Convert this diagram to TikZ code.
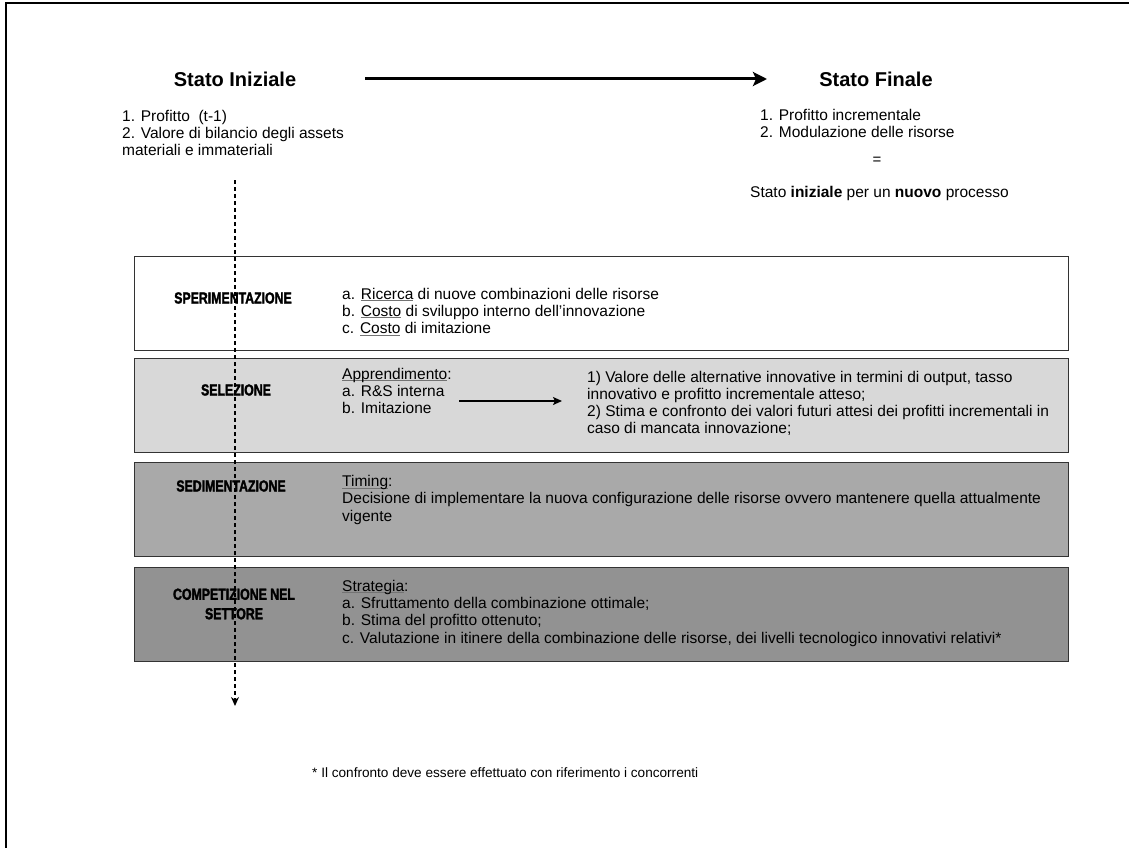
\documentclass[tikz,border=0pt]{standalone}
\usepackage{fontspec}
\setmainfont{Liberation Sans}
\newfontfamily\labfont{Liberation Sans}[UprightFont={* Bold}, FakeStretch=0.77, FakeBold=1.8]
\usetikzlibrary{arrows.meta}
\definecolor{selfill}{HTML}{D8D8D8}
\definecolor{sedfill}{HTML}{A9A9A9}
\definecolor{comfill}{HTML}{929292}
% underlined key word
\newcommand\undl[1]{\setbox0\hbox{#1}\rlap{\color{black!55}\rule[-2pt]{\wd0}{0.9pt}}\box0\relax}
\begin{document}
\begin{tikzpicture}[x=1pt,y=-1pt,
  body/.style={font=\fontsize{15.5}{17.3}\selectfont, inner sep=0pt, align=left, anchor=base west},
  titletext/.style={font=\fontsize{20}{24}\selectfont\bfseries, inner sep=0pt, anchor=base},
  stagebox/.style={draw=black!80, line width=1.4pt, minimum width=934pt, minimum height=94pt, anchor=north west, inner sep=0pt},
  stagelabel/.style={font=\labfont\fontsize{16}{19}\selectfont, inner sep=0pt, align=center, anchor=center},
  note/.style={font=\fontsize{13.6}{16}\selectfont, inner sep=0pt, anchor=base west}]
\useasboundingbox (0,0) rectangle (1129,848);
\fill[white] (0,0) rectangle (1129,848);
% page frame
\draw[line width=2.5pt] (1129,3) -- (6,3) -- (6,848);

% initial and final state (multi-line texts are placed by the baseline of their last line)
\node[titletext] (ini) at (235,87) {Stato Iniziale};
\node[titletext] (fin) at (876,87) {Stato Finale};
\node[body] (inilist) at (122,155.6) {1. Profitto\ \ (t-1)\\2. Valore di bilancio degli assets\\materiali e immateriali};
\node[body] (finlist) at (760,137.8) {1. Profitto incrementale\\2. Modulazione delle risorse};
\node[font=\fontsize{15}{17}\selectfont, inner sep=0pt] (eq) at (877,161) {=};
\node[body] (newproc) at (750,197) {Stato \textbf{iniziale} per un \textbf{nuovo} processo};
\coordinate (arrA) at (365,79);
\coordinate (arrB) at (767,79);
\draw[line width=3pt, -{Stealth[length=14pt,width=14pt,inset=3pt]}] (arrA) -- (arrB);

% stages
\node[stagebox, fill=white] (b1) at (134,256) {};
\node[stagebox, fill=selfill] (b2) at (134,358) {};
\node[stagebox, fill=sedfill] (b3) at (134,462) {};
\node[stagebox, fill=comfill] (b4) at (134,567) {};

\node[stagelabel] (l1) at (233,298) {SPERIMENTAZIONE};
\node[stagelabel] (l2) at (236,390) {SELEZIONE};
\node[stagelabel] (l3) at (231,486) {SEDIMENTAZIONE};
\node[stagelabel, font=\labfont\fontsize{16}{19.5}\selectfont] (l4) at (234,604) {COMPETIZIONE NEL\\SETTORE};

\node[body] (t1) at (342,333.6) {a. \undl{Ricerca} di nuove combinazioni delle risorse\\b. \undl{Costo} di sviluppo interno dell'innovazione\\c. \undl{Costo} di imitazione};
\node[body] (t2a) at (342,413.6) {\undl{Apprendimento}:\\a. R\&S interna\\b. Imitazione};
\node[body] (t2b) at (587,433.9) {1) Valore delle alternative innovative in termini di output, tasso\\innovativo e profitto incrementale atteso;\\2) Stima e confronto dei valori futuri attesi dei profitti incrementali in\\caso di mancata innovazione;};
\coordinate (selA) at (459,401);
\coordinate (selB) at (562,401);
\draw[line width=1.5pt, -{Stealth[length=9pt,width=8pt,inset=2pt]}] (selA) -- (selB);
\node[body] (t3) at (342,521) {\undl{Timing}:\\Decisione di implementare la nuova configurazione delle risorse ovvero mantenere quella attualmente\\vigente};
\node[body] (t4) at (342,643) {\undl{Strategia}:\\a. Sfruttamento della combinazione ottimale;\\b. Stima del profitto ottenuto;\\c. Valutazione in itinere della combinazione delle risorse, dei livelli tecnologico innovativi relativi*};

% time axis
\coordinate (dashTop) at (235,180);
\coordinate (dashBot) at (235,706);
\draw[line width=2pt, dash pattern=on 4pt off 3pt, -{Stealth[length=9pt,width=8pt]}] (dashTop) -- (dashBot);

\node[note] (fn) at (312,777) {* Il confronto deve essere effettuato con riferimento i concorrenti};
\end{tikzpicture}
\end{document}
